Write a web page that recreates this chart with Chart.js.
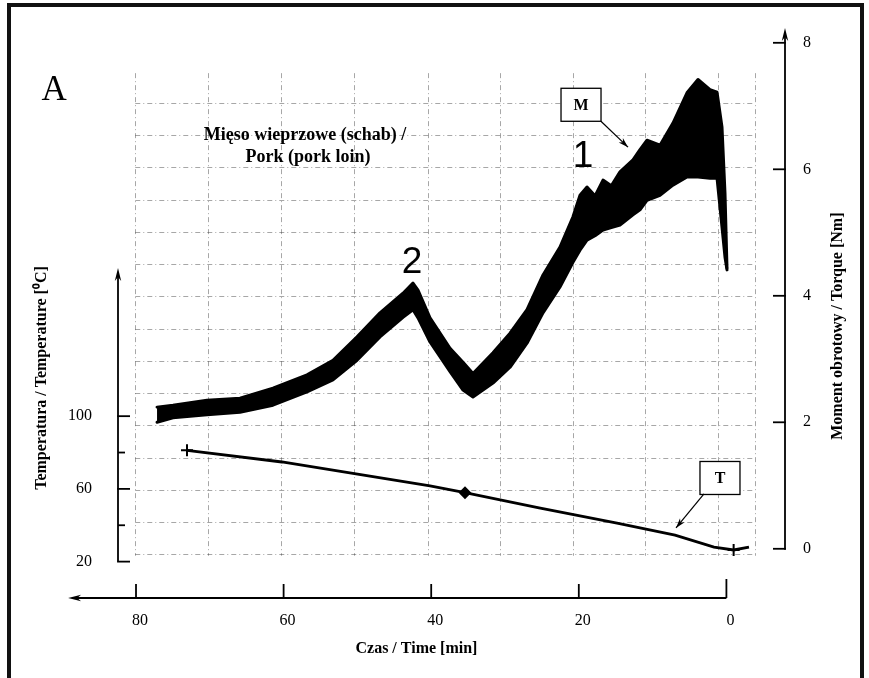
<!DOCTYPE html>
<html>
<head>
<meta charset="utf-8">
<title>Mięso wieprzowe (schab) / Pork (pork loin)</title>
<script src="https://cdn.jsdelivr.net/npm/chart.js@4.4.0/dist/chart.umd.min.js"></script>
<style>
  html, body { margin: 0; padding: 0; background: #fff; }
  #wrap { position: relative; width: 869px; height: 678px; overflow: hidden; }
  #wrap canvas { position: absolute; left: 0; top: 0; }
  #frame { position: absolute; left: 7px; top: 3px; width: 857px; height: 720px; border: 4px solid #111; box-sizing: border-box; pointer-events: none; }
</style>
</head>
<body>
<div id="wrap">
  <canvas id="chart" width="869" height="678"></canvas>
  <div id="frame"></div>
</div>
<script>
// axis ticks
const timeTicks = [80, 60, 40, 20, 0];
const tempTicks = [20, 60, 100];
const tempMinorTicks = [40, 80];
const torqueTicks = [0, 2, 4, 6, 8];

// M - torque band (Nm), upper / lower edge of the recorded trace
const mTime  = [77.15, 74.99, 70.38, 65.91, 61.44, 56.83, 53.31, 50.05, 46.94, 43.82, 42.47, 41.79, 40.16, 37.45, 35.69, 34.34, 31.63, 29.32, 27.02, 24.85, 22.55, 20.79, 19.84, 18.89, 17.80, 16.72, 15.60, 14.42, 12.66, 11.71, 10.76, 9.00, 7.24, 5.34, 3.85, 2.22, 1.27, 0.60, 0.19, -0.08];
const mUpper = [2.24, 2.27, 2.35, 2.38, 2.54, 2.75, 2.98, 3.35, 3.73, 4.04, 4.20, 4.09, 3.65, 3.17, 2.95, 2.77, 3.10, 3.41, 3.78, 4.33, 4.77, 5.25, 5.59, 5.72, 5.58, 5.83, 5.74, 5.96, 6.15, 6.31, 6.46, 6.38, 6.73, 7.21, 7.42, 7.26, 7.22, 6.67, 5.62, 4.44];
const mLower = [2.00, 2.07, 2.12, 2.16, 2.27, 2.48, 2.67, 2.98, 3.35, 3.66, 3.78, 3.65, 3.27, 2.80, 2.51, 2.40, 2.62, 2.87, 3.25, 3.73, 4.14, 4.53, 4.72, 4.88, 4.95, 5.04, 5.08, 5.12, 5.28, 5.36, 5.51, 5.59, 5.75, 5.88, 5.88, 5.86, 5.86, 5.09, 4.61, 4.41];

// T - temperature (°C)
const tTime = [73.09, 60.22, 50.19, 40.16, 35.42, 25.39, 14.82, 6.96, 1.68, -0.98, -3.06];
const tTemp = [81.2, 74.8, 68.2, 61.6, 57.9, 49.5, 41.2, 34.6, 28.0, 26.4, 28.0];
const tMarkers = [0, 4, 9];

// recorder paper grid (time in min, torque in Nm)
const paperCols = [80.1, 70.2, 60.4, 50.5, 40.4, 30.7, 20.8, 11.0, 1.1, -3.9];
const paperRows = [-0.09, 0.42, 0.93, 1.44, 1.95, 2.46, 2.97, 3.48, 3.99, 4.50, 5.01, 5.52, 6.03, 6.54, 7.05];

const SERIF = '"Liberation Serif", "Times New Roman", serif';

function seg(ctx, x1, y1, x2, y2) {
    ctx.beginPath(); ctx.moveTo(x1, y1); ctx.lineTo(x2, y2); ctx.stroke();
}
function head(ctx, x, y, dx, dy, L = 13, W = 3.2) {
    const n = Math.hypot(dx, dy); dx /= n; dy /= n;
    ctx.beginPath();
    ctx.moveTo(x, y);
    ctx.lineTo(x - dx * L - dy * W, y - dy * L + dx * W);
    ctx.lineTo(x - dx * L * 0.7, y - dy * L * 0.7);
    ctx.lineTo(x - dx * L + dy * W, y - dy * L - dx * W);
    ctx.closePath(); ctx.fill();
}

const paperPlugin = {
    id: 'paper',
    beforeDatasetsDraw(chart) {
        const { ctx, scales: { x, yM } } = chart;
        const top = yM.getPixelForValue(7.52), bottom = yM.getPixelForValue(-0.11);
        const left = x.getPixelForValue(paperCols[0]), right = x.getPixelForValue(paperCols[paperCols.length - 1]);
        ctx.save();
        ctx.strokeStyle = 'rgba(60,60,60,0.45)';
        ctx.lineWidth = 1;
        ctx.setLineDash([5, 3, 1, 3]);
        paperCols.forEach(t => { const px = Math.round(x.getPixelForValue(t)) + 0.5; seg(ctx, px, top, px, bottom); });
        paperRows.forEach(v => { const py = Math.round(yM.getPixelForValue(v)) + 0.5; seg(ctx, left, py, right, py); });
        ctx.restore();
    }
};

const axesPlugin = {
    id: 'axes',
    afterDatasetsDraw(chart) {
        const { ctx, chartArea: a, scales: { x, yM, yT } } = chart;
        ctx.save();
        ctx.strokeStyle = '#000'; ctx.fillStyle = '#000'; ctx.lineWidth = 1.8;

        // time axis (arrow to the left)
        const yb = a.bottom;
        const xTip = x.getPixelForValue(89.2), x0 = x.getPixelForValue(0);
        seg(ctx, xTip + 6, yb, x0, yb);
        head(ctx, xTip, yb, -1, 0);
        ctx.font = '16px ' + SERIF; ctx.textAlign = 'center'; ctx.textBaseline = 'middle';
        timeTicks.forEach(t => {
            const px = x.getPixelForValue(t);
            seg(ctx, px, yb, px, yb - (t === 0 ? 19 : 14));
            ctx.fillText(String(t), px + 4, yb + 23);
        });
        ctx.font = 'bold 16px ' + SERIF;
        ctx.fillText('Czas / Time [min]', x.getPixelForValue(42), yb + 51);

        // temperature axis (left)
        const xl = a.left;
        const y20 = yT.getPixelForValue(tempTicks[0]), yTop = yT.getPixelForValue(181.5);
        seg(ctx, xl, y20, xl, yTop + 6);
        head(ctx, xl, yTop, 0, -1);
        tempMinorTicks.forEach(v => { const py = yT.getPixelForValue(v); seg(ctx, xl, py, xl + 7, py); });
        ctx.font = '16px ' + SERIF; ctx.textAlign = 'right';
        tempTicks.forEach(v => {
            const py = yT.getPixelForValue(v);
            seg(ctx, xl - 0.9, py, xl + 12, py);
            ctx.fillText(String(v), xl - 26, py);
        });
        ctx.save();
        ctx.translate(xl - 76, yT.getPixelForValue(121));
        ctx.rotate(-Math.PI / 2);
        ctx.font = 'bold 16px ' + SERIF; ctx.textAlign = 'center';
        ctx.fillText('Temperatura / Temperature [\u2070C]', 0, 0);
        ctx.restore();

        // torque axis (right)
        const xr = a.right;
        const yZero = yM.getPixelForValue(0);
        seg(ctx, xr, yZero + 0.9, xr, a.top + 6);
        head(ctx, xr, a.top, 0, -1);
        ctx.font = '16px ' + SERIF; ctx.textAlign = 'left';
        torqueTicks.forEach(v => {
            const py = yM.getPixelForValue(v);
            seg(ctx, xr - 12, py, xr + 0.9, py);
            ctx.fillText(String(v), xr + 18, py);
        });
        ctx.save();
        ctx.translate(xr + 53, yM.getPixelForValue(3.52));
        ctx.rotate(-Math.PI / 2);
        ctx.font = 'bold 16px ' + SERIF; ctx.textAlign = 'center';
        ctx.fillText('Moment obrotowy / Torque [Nm]', 0, 0);
        ctx.restore();

        // panel letter, heading and curve labels
        const P = (t, v, s) => [x.getPixelForValue(t), s.getPixelForValue(v)];
        ctx.textAlign = 'center';
        ctx.font = '35px ' + SERIF;
        ctx.fillText('A', ...P(91.1, 7.24, yM));
        ctx.font = 'bold 18px ' + SERIF;
        ctx.fillText('Mięso wieprzowe (schab) /', ...P(57.1, 6.54, yM));
        ctx.fillText('Pork (pork loin)', ...P(56.7, 6.19, yM));
        ctx.font = '37px "Liberation Sans", Arial, sans-serif';
        ctx.fillText('2', ...P(42.6, 4.52, yM));
        ctx.fillText('1', ...P(19.43, 6.19, yM));

        // boxed series labels with arrows
        const box = (label, c, from, to) => {
            const [cx, cy] = c;
            ctx.lineWidth = 1.3;
            ctx.fillStyle = '#fff';
            ctx.fillRect(cx - 20, cy - 16.5, 40, 33);
            ctx.strokeRect(cx - 20, cy - 16.5, 40, 33);
            ctx.fillStyle = '#000';
            ctx.font = 'bold 16px ' + SERIF;
            ctx.fillText(label, cx, cy + 1);
            ctx.lineWidth = 1.2;
            seg(ctx, from[0], from[1], to[0], to[1]);
            head(ctx, to[0], to[1], to[0] - from[0], to[1] - from[1], 10, 3);
        };
        box('M', P(19.7, 7.02, yM), P(17.0, 6.76, yM), P(13.33, 6.35, yM));
        box('T', P(0.87, 66.0, yT), P(3.04, 57.2, yT), P(6.83, 38.5, yT));
        ctx.restore();
    }
};

const ctx = document.getElementById('chart').getContext('2d');
new Chart(ctx, {
    type: 'line',
    data: {
        datasets: [
            {
                label: 'M', yAxisID: 'yM',
                data: mTime.map((t, i) => ({ x: t, y: mUpper[i] })),
                borderColor: '#000', backgroundColor: '#000', borderWidth: 3,
                borderJoinStyle: 'round', borderCapStyle: 'round',
                pointRadius: 0, tension: 0, fill: '+1'
            },
            {
                label: 'M min', yAxisID: 'yM',
                data: mTime.map((t, i) => ({ x: t, y: mLower[i] })),
                borderColor: '#000', borderWidth: 3,
                borderJoinStyle: 'round', borderCapStyle: 'round',
                pointRadius: 0, tension: 0, fill: false
            },
            {
                label: 'T', yAxisID: 'yT',
                data: tTime.map((t, i) => ({ x: t, y: tTemp[i] })),
                borderColor: '#000', backgroundColor: '#000', borderWidth: 2.8,
                tension: 0, fill: false,
                pointRadius: c => tMarkers.includes(c.dataIndex) ? (c.dataIndex === 4 ? 5 : 6) : 0,
                pointStyle: c => c.dataIndex === 4 ? 'rectRot' : 'cross',
                pointBorderWidth: 2, pointBorderColor: '#000', pointBackgroundColor: '#000'
            }
        ]
    },
    options: {
        responsive: false,
        animation: false,
        layout: { padding: { left: 118, right: 84, top: 28, bottom: 80 } },
        plugins: { legend: { display: false }, tooltip: { enabled: false } },
        scales: {
            x: { type: 'linear', reverse: true, min: -7.94, max: 82.44, display: false },
            yM: { type: 'linear', position: 'right', min: -0.778, max: 8.234, display: false },
            yT: { type: 'linear', position: 'left', min: -0.01, max: 313.5, display: false }
        }
    },
    plugins: [paperPlugin, axesPlugin]
});
</script>
</body>
</html>
